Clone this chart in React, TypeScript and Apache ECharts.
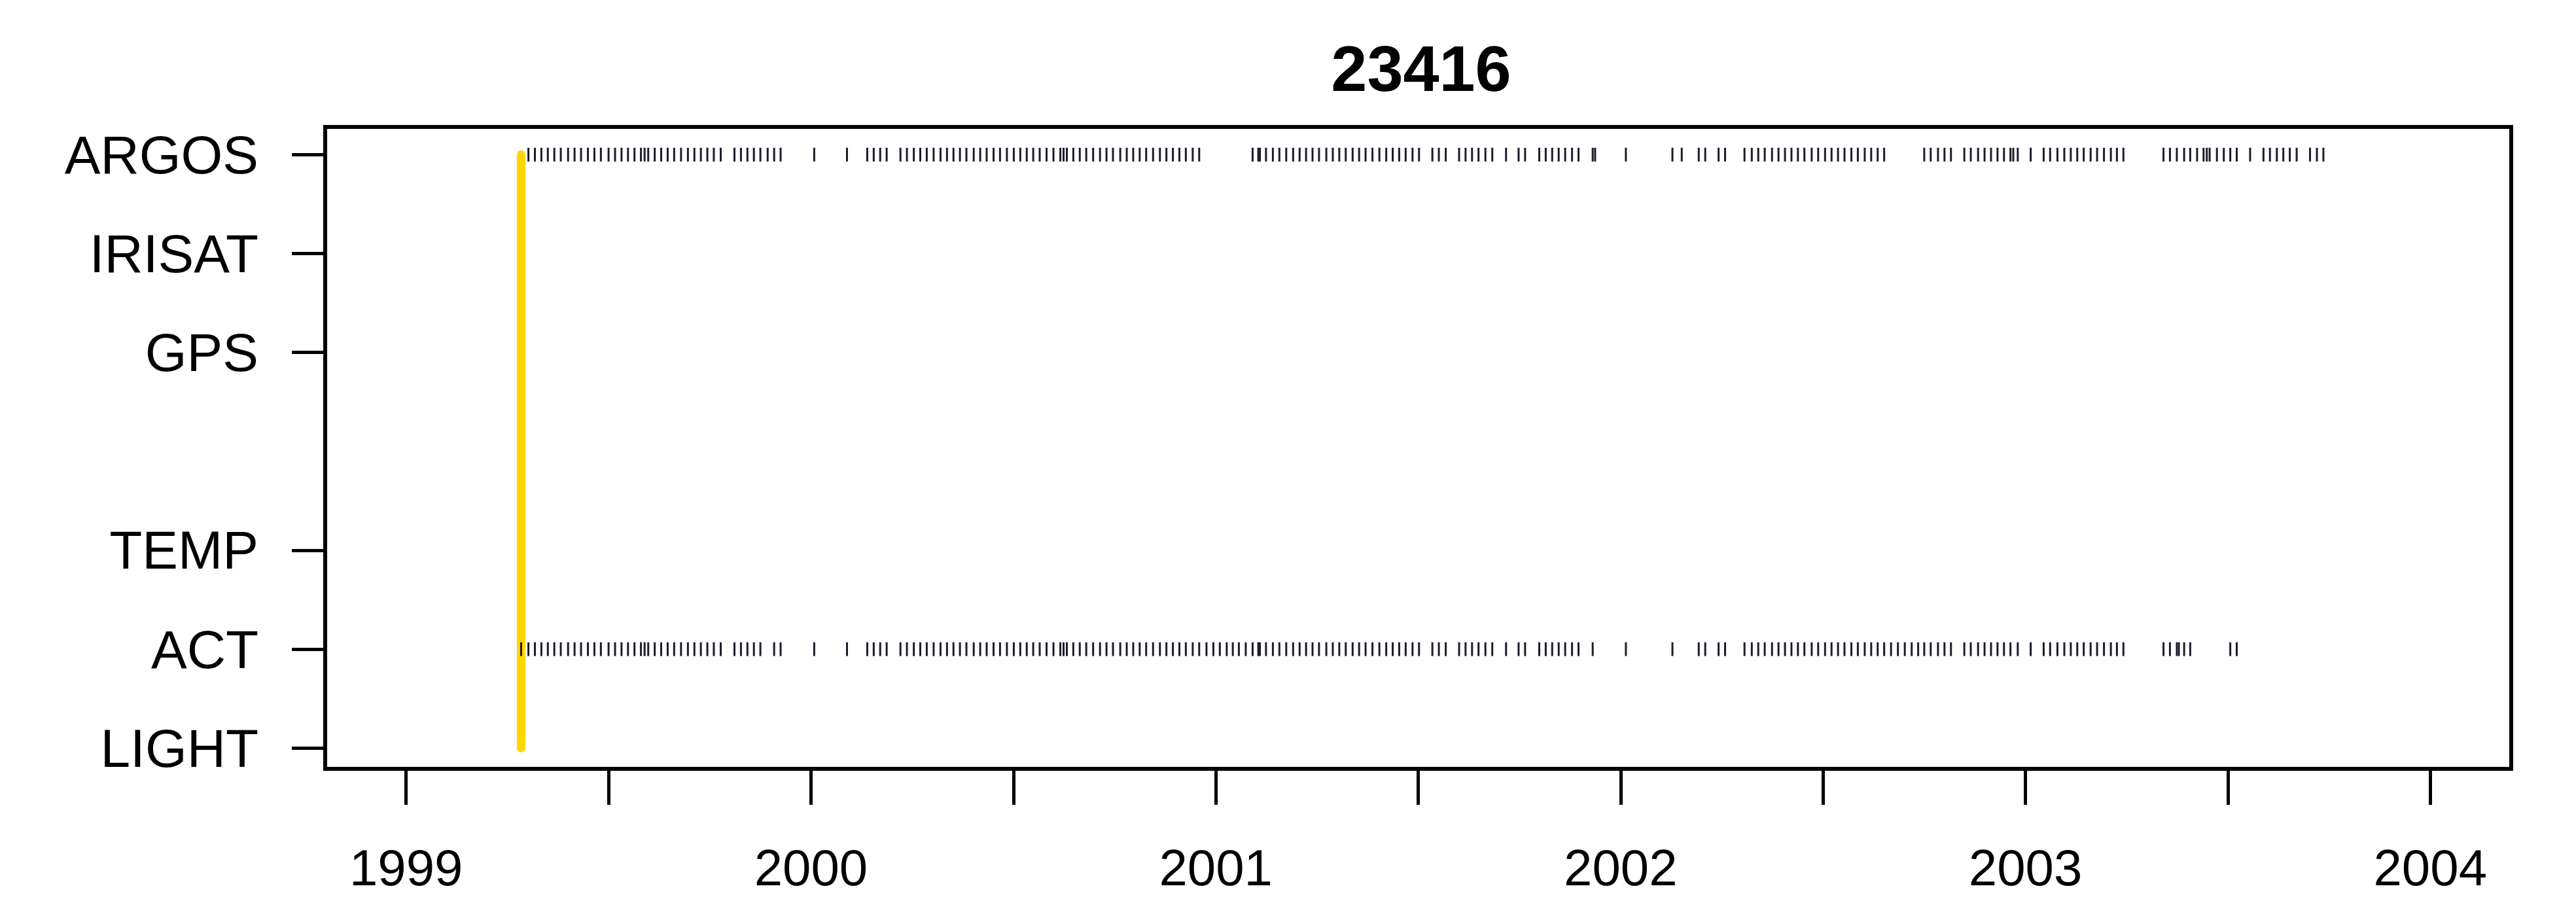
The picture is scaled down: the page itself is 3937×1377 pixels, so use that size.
import React, { useEffect, useRef } from "react";
import * as echarts from "echarts";

// ---- data ----
const chartTitle = "23416";
const sensorLabels = ["ARGOS", "IRISAT", "GPS", "TEMP", "ACT", "LIGHT"];
const sensorRows = [7, 6, 5, 3, 2, 1];
const yearTicks = [1999, 2000, 2001, 2002, 2003, 2004];
const halfYearTicks = [1999, 1999.5, 2000, 2000.5, 2001, 2001.5, 2002, 2002.5, 2003, 2003.5, 2004];
const deploymentStart = 1999.284;

const argosTimes = [
  1999.302, 1999.318, 1999.334, 1999.35, 1999.366, 1999.382, 1999.4, 1999.416, 1999.432, 1999.449,
  1999.465, 1999.481, 1999.5, 1999.516, 1999.532, 1999.548, 1999.564, 1999.58, 1999.589, 1999.598,
  1999.614, 1999.63, 1999.646, 1999.662, 1999.679, 1999.696, 1999.712, 1999.728, 1999.744, 1999.76,
  1999.777, 1999.811, 1999.827, 1999.843, 1999.859, 1999.875, 1999.893, 1999.909, 1999.925, 2000.008,
  2000.089,
  2000.139, 2000.155, 2000.171, 2000.187, 2000.221, 2000.237, 2000.254, 2000.27, 2000.286, 2000.303,
  2000.32, 2000.336, 2000.352, 2000.368, 2000.384, 2000.402, 2000.418, 2000.434, 2000.451, 2000.467,
  2000.484, 2000.501, 2000.517, 2000.533, 2000.549, 2000.565, 2000.582, 2000.599, 2000.616, 2000.624,
  2000.632, 2000.648, 2000.664, 2000.68, 2000.697, 2000.714, 2000.73, 2000.746, 2000.764, 2000.78,
  2000.796, 2000.812, 2000.828, 2000.845, 2000.862, 2000.878, 2000.894, 2000.91, 2000.926, 2000.943,
  2000.959,
  2001.091, 2001.105, 2001.109, 2001.124, 2001.141, 2001.157, 2001.174, 2001.191, 2001.207, 2001.223,
  2001.239, 2001.255, 2001.273, 2001.289, 2001.305, 2001.321, 2001.338, 2001.354, 2001.37, 2001.387,
  2001.404, 2001.421, 2001.437, 2001.453, 2001.469, 2001.486, 2001.502, 2001.535, 2001.551, 2001.568,
  2001.601, 2001.617, 2001.633, 2001.649, 2001.666, 2001.683, 2001.717, 2001.748, 2001.764, 2001.799,
  2001.815, 2001.831, 2001.847, 2001.863, 2001.88, 2001.896, 2001.931, 2001.937, 2002.013, 2002.128,
  2002.151, 2002.193, 2002.209, 2002.242, 2002.258,
  2002.306, 2002.324, 2002.34, 2002.356, 2002.374, 2002.39, 2002.406, 2002.422, 2002.438, 2002.454,
  2002.472, 2002.488, 2002.505, 2002.521, 2002.537, 2002.553, 2002.57, 2002.586, 2002.603, 2002.619,
  2002.635, 2002.651, 2002.75, 2002.766, 2002.784, 2002.8, 2002.816, 2002.849, 2002.865, 2002.883,
  2002.899, 2002.915, 2002.931, 2002.947, 2002.963, 2002.97, 2002.981, 2003.013, 2003.045, 2003.061,
  2003.079, 2003.096, 2003.112, 2003.128, 2003.144, 2003.161, 2003.177, 2003.194, 2003.211, 2003.226,
  2003.242, 2003.341, 2003.357, 2003.374, 2003.392, 2003.407, 2003.424, 2003.44, 2003.448, 2003.455,
  2003.473, 2003.49, 2003.506, 2003.522, 2003.555, 2003.588, 2003.604, 2003.621, 2003.637, 2003.653,
  2003.67, 2003.703, 2003.72, 2003.736,
];

const actTimes = [
  1999.284, 1999.302, 1999.318, 1999.334, 1999.35, 1999.366, 1999.382, 1999.4, 1999.416, 1999.432,
  1999.449, 1999.465, 1999.481, 1999.5, 1999.516, 1999.532, 1999.548, 1999.564, 1999.58, 1999.589,
  1999.598, 1999.614, 1999.63, 1999.646, 1999.662, 1999.679, 1999.696, 1999.712, 1999.728, 1999.744,
  1999.76, 1999.777, 1999.811, 1999.827, 1999.843, 1999.859, 1999.875, 1999.909, 1999.925, 2000.008,
  2000.089,
  2000.139, 2000.155, 2000.171, 2000.187, 2000.221, 2000.237, 2000.254, 2000.27, 2000.286, 2000.303,
  2000.32, 2000.336, 2000.352, 2000.368, 2000.384, 2000.402, 2000.418, 2000.434, 2000.451, 2000.467,
  2000.484, 2000.501, 2000.517, 2000.533, 2000.549, 2000.565, 2000.582, 2000.599, 2000.616, 2000.624,
  2000.632, 2000.648, 2000.664, 2000.68, 2000.697, 2000.714, 2000.73, 2000.746, 2000.764, 2000.78,
  2000.796, 2000.812, 2000.828, 2000.845, 2000.862, 2000.878, 2000.894, 2000.91, 2000.926, 2000.943,
  2000.959, 2000.977, 2000.994, 2001.01, 2001.027, 2001.042, 2001.057, 2001.074,
  2001.091, 2001.105, 2001.109, 2001.124, 2001.141, 2001.157, 2001.174, 2001.191, 2001.207, 2001.223,
  2001.239, 2001.255, 2001.273, 2001.289, 2001.305, 2001.321, 2001.338, 2001.354, 2001.37, 2001.387,
  2001.404, 2001.421, 2001.437, 2001.453, 2001.469, 2001.486, 2001.502, 2001.535, 2001.551, 2001.568,
  2001.601, 2001.617, 2001.633, 2001.649, 2001.666, 2001.683, 2001.717, 2001.748, 2001.764, 2001.799,
  2001.815, 2001.831, 2001.847, 2001.863, 2001.88, 2001.896, 2001.931, 2002.013, 2002.128, 2002.193,
  2002.209, 2002.242, 2002.258,
  2002.306, 2002.324, 2002.34, 2002.356, 2002.374, 2002.39, 2002.406, 2002.422, 2002.438, 2002.454,
  2002.472, 2002.488, 2002.505, 2002.521, 2002.537, 2002.553, 2002.57, 2002.586, 2002.603, 2002.619,
  2002.635, 2002.651, 2002.668, 2002.685, 2002.702, 2002.719, 2002.735, 2002.75, 2002.766, 2002.784,
  2002.8, 2002.816, 2002.849, 2002.865, 2002.883, 2002.899, 2002.915, 2002.931, 2002.947, 2002.963,
  2002.981, 2003.013, 2003.045, 2003.061, 2003.079, 2003.096, 2003.112, 2003.128, 2003.144, 2003.161,
  2003.177, 2003.194, 2003.211, 2003.226, 2003.242, 2003.341, 2003.357, 2003.374, 2003.379, 2003.392,
  2003.407, 2003.506, 2003.522,
];

const FONT = "Arimo, 'Liberation Sans', Arial, Helvetica, sans-serif";

export default function App() {
  const ref = useRef<HTMLDivElement>(null);

  useEffect(() => {
    document.body.style.margin = "0";
    if (!ref.current) return;
    const chart = echarts.init(ref.current, undefined, { renderer: "svg" });

    const labelFor: Record<number, string> = {};
    sensorRows.forEach((r, i) => {
      labelFor[r] = sensorLabels[i];
    });

    const rowOf = (name: string) => sensorRows[sensorLabels.indexOf(name)];

    chart.setOption({
      animation: false,
      backgroundColor: "#ffffff",
      title: {
        text: chartTitle,
        left: 2167,
        top: 50,
        textAlign: "center",
        textStyle: { fontFamily: FONT, fontSize: 99, fontWeight: "bold", color: "#000" },
      },
      grid: {
        left: 497,
        right: 99,
        top: 194,
        bottom: 202,
        show: true,
        borderColor: "#000",
        borderWidth: 6,
        backgroundColor: "transparent",
      },
      xAxis: {
        type: "value",
        min: 1998.8,
        max: 2004.2,
        axisLine: { show: false },
        splitLine: { show: false },
        axisTick: {
          show: true,
          inside: false,
          length: 55,
          customValues: halfYearTicks,
          lineStyle: { color: "#000", width: 5 },
        },
        axisLabel: {
          show: true,
          customValues: yearTicks,
          margin: 112,
          fontFamily: FONT,
          fontSize: 78,
          color: "#000",
          formatter: (v: number) => String(Math.round(v)),
        },
      },
      yAxis: {
        type: "value",
        min: 0.79,
        max: 7.28,
        axisLine: { show: false },
        splitLine: { show: false },
        axisTick: {
          show: true,
          inside: false,
          length: 51,
          customValues: sensorRows,
          lineStyle: { color: "#000", width: 5 },
        },
        axisLabel: {
          show: true,
          customValues: sensorRows,
          margin: 102,
          fontFamily: FONT,
          fontSize: 82,
          color: "#000",
          formatter: (v: number) => labelFor[Math.round(v)] || "",
        },
      },
      series: [
        {
          type: "line",
          silent: true,
          symbol: "none",
          data: [
            [deploymentStart, rowOf("LIGHT")],
            [deploymentStart, rowOf("ARGOS")],
          ],
          lineStyle: { color: "#FFD700", width: 13, cap: "round" },
          z: 1,
        },
        {
          type: "scatter",
          silent: true,
          symbol: "rect",
          symbolSize: [3, 21],
          data: argosTimes.map((t) => [t, rowOf("ARGOS")]),
          itemStyle: { color: "#1c1c2c", opacity: 1 },
          z: 2,
        },
        {
          type: "scatter",
          silent: true,
          symbol: "rect",
          symbolSize: [3, 21],
          data: actTimes.map((t) => [t, rowOf("ACT")]),
          itemStyle: { color: "#1c1c2c", opacity: 1 },
          z: 2,
        },
      ],
    });

    return () => {
      chart.dispose();
    };
  }, []);

  return <div ref={ref} style={{ width: 3937, height: 1377 }} />;
}
